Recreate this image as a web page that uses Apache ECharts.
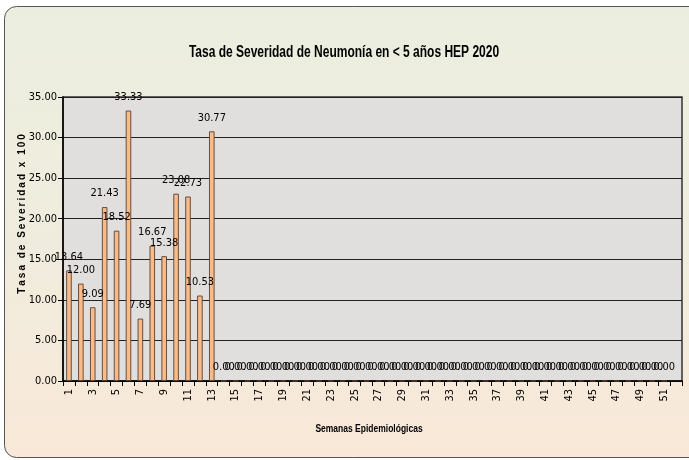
<!DOCTYPE html>
<html><head><meta charset="utf-8">
<script src="https://cdn.jsdelivr.net/npm/echarts@6/dist/echarts.min.js"></script>
<style>html,body{margin:0;padding:0;background:#fff}#c{width:689px;height:460px}</style>
</head><body><div id="c"></div>
<script>
var weeks = [];
for (var i = 1; i <= 52; i++) weeks.push(String(i));
var rates = [13.64, 12.00, 9.09, 21.43, 18.52, 33.33, 7.69, 16.67, 15.38, 23.08, 22.73, 10.53, 30.77,
  0,0,0,0,0,0,0,0,0,0,0,0,0,0,0,0,0,0,0,0,0,0,0,0,0,0,0,0,0,0,0,0,0,0,0,0,0,0];
var yTicks = [0, 5, 10, 15, 20, 25, 30, 35];
var titleText = 'Tasa de Severidad de Neumonía en < 5 años HEP 2020';
var yName = 'Tasa de Severidad x 100';
var xName = 'Semanas Epidemiológicas';
var NF = "'DejaVu Sans Condensed', 'Liberation Sans Narrow', 'Liberation Sans', sans-serif";
var chart = echarts.init(document.getElementById('c'));
chart.setOption({
  animation: false,
  graphic: [{
    type: 'rect', z: -10, silent: true,
    shape: {x: 4.5, y: 6.5, width: 720, height: 451, r: 12},
    style: {
      fill: new echarts.graphic.LinearGradient(0, 0, 0, 1, [
        {offset: 0, color: '#ebeedf'}, {offset: 0.55, color: '#f0ecdd'}, {offset: 1, color: '#f9e8d8'}]),
      stroke: '#555', lineWidth: 1
    }
  }, {
    type: 'text', x: 344, y: 53, scaleX: 0.75, silent: true,
    style: {text: titleText, font: "bold 16px 'Liberation Sans', sans-serif", fill: '#000', align: 'center', verticalAlign: 'middle'}
  }, {
    type: 'text', x: 22, y: 214, rotation: Math.PI / 2, silent: true,
    style: {text: yName.split('').join('\u2009'), font: "bold 10px 'Liberation Sans', sans-serif", fill: '#000', align: 'center', verticalAlign: 'middle'}
  }, {
    type: 'text', x: 369, y: 429, scaleX: 0.85, silent: true,
    style: {text: xName, font: "bold 10px 'Liberation Sans', sans-serif", fill: '#000', align: 'center', verticalAlign: 'middle'}
  }],
  grid: {left: 63, right: 7, top: 97, bottom: 79, show: true, backgroundColor: '#e1dfdd', borderColor: '#333', borderWidth: 1.5},
  xAxis: {
    type: 'category', data: weeks,
    axisLine: {lineStyle: {color: '#000', width: 1.5}},
    axisTick: {show: true, alignWithLabel: false, interval: 0, length: 5, lineStyle: {color: '#000'}},
    axisLabel: {interval: 1, rotate: 90, fontFamily: NF, fontSize: 11, color: '#000', margin: 8}
  },
  yAxis: {
    type: 'value', min: 0, max: 35, interval: 5,
    axisLine: {show: true, lineStyle: {color: '#000', width: 1.5}},
    axisTick: {show: true, length: 5, lineStyle: {color: '#000'}},
    axisLabel: {fontFamily: NF, fontSize: 11, color: '#000', margin: 6,
      formatter: function (v) { return yTicks.indexOf(v) >= 0 ? v.toFixed(2) : ''; }},
    splitLine: {lineStyle: {color: '#222', width: 1.2}}
  },
  series: [{
    type: 'bar', data: rates, barWidth: 5.5,
    itemStyle: {color: '#f9bb8a', borderColor: '#5a4030', borderWidth: 0.9},
    label: {show: true, position: 'top', distance: 8, fontFamily: NF, fontSize: 11, color: '#000',
      formatter: function (p) { return p.value.toFixed(2); }}
  }]
});
</script></body></html>
